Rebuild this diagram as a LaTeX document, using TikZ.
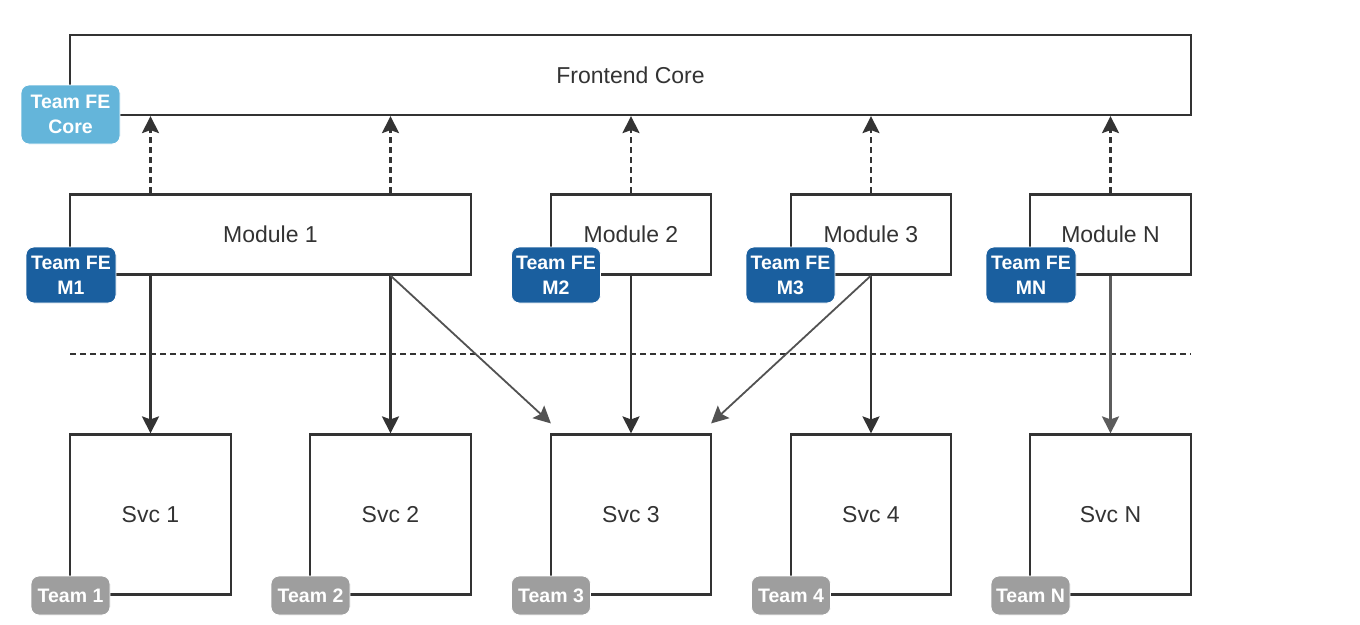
\documentclass[tikz,border=0pt]{standalone}
\usepackage{fontspec}
\setmainfont{Liberation Sans}
\usetikzlibrary{arrows.meta,calc}
\definecolor{lineC}{HTML}{333333}
\definecolor{fecore}{HTML}{64B5DA}
\definecolor{femod}{HTML}{1A5F9F}
\definecolor{teamgray}{HTML}{9E9E9E}
\tikzset{
  box/.style={draw=lineC, line width=2.2pt, fill=white, inner sep=0pt, text=lineC,
    font=\fontsize{23}{27}\selectfont},
  badge/.style={rounded corners=8pt, draw=white, line width=0.8pt, text=white,
    inner sep=0pt, align=center, font=\bfseries\fontsize{19.5}{25}\selectfont},
  dep/.style={draw=lineC, line width=2.2pt, dashed, dash pattern=on 6pt off 4pt,
    -{Stealth[length=17pt,width=17pt,inset=3pt]}},
  call/.style={draw=lineC, line width=2.2pt,
    -{Stealth[length=17pt,width=17pt,inset=3pt]}},
  diag/.style={draw=lineC!85!white, line width=1.8pt,
    -{Stealth[length=17pt,width=17pt,inset=3pt]}},
  sep/.style={draw=lineC, line width=2.2pt, dash pattern=on 6pt off 4pt}
}
\begin{document}
\begin{tikzpicture}[x=1pt,y=-1pt]
\useasboundingbox (0,0) rectangle (1360,624);
\fill[white] (0,0) rectangle (1360,624);

% Frontend core
\node[box, minimum width=1121pt, minimum height=80pt] (fe) at (630.5,75) {Frontend Core};

% Modules
\node[box, minimum width=401pt, minimum height=80pt] (m1) at (270.5,234.5) {Module 1};
\node[box, minimum width=160pt, minimum height=80pt] (m2) at (631,234.5) {Module 2};
\node[box, minimum width=160pt, minimum height=80pt] (m3) at (871,234.5) {Module 3};
\node[box, minimum width=161pt, minimum height=80pt] (mn) at (1110.5,234.5) {Module N};

% Services
\node[box, minimum width=161pt, minimum height=160pt] (s1) at (150.5,514.5) {Svc 1};
\node[box, minimum width=161pt, minimum height=160pt] (s2) at (390.5,514.5) {Svc 2};
\node[box, minimum width=160pt, minimum height=160pt] (s3) at (631,514.5) {Svc 3};
\node[box, minimum width=160pt, minimum height=160pt] (s4) at (871,514.5) {Svc 4};
\node[box, minimum width=161pt, minimum height=160pt] (sn) at (1110.5,514.5) {Svc N};

% separator
\coordinate (sepL) at (70,354);
\coordinate (sepR) at (1191,354);
\draw[sep] (sepL) -- (sepR);

% dependency arrows (dashed, upward)
\draw[dep] (m1.north -| s1) -- (fe.south -| s1);
\draw[dep] (m1.north -| s2) -- (fe.south -| s2);
\draw[dep] (m2.north) -- (fe.south -| m2);
\draw[dep] (m3.north) -- (fe.south -| m3);
\draw[dep] (mn.north) -- (fe.south -| mn);

% calls (solid, downward)
\draw[call] (m1.south -| s1) -- (s1.north);
\draw[call] (m1.south -| s2) -- (s2.north);
\draw[call] (m2.south) -- (s3.north);
\draw[call] (m3.south) -- (s4.north);
\draw[call, draw=lineC!80!white] (mn.south) -- (sn.north);
\coordinate (s3a) at ($(s3.north west)+(1,-10)$);
\coordinate (s3b) at ($(s3.north east)+(-1,-10)$);
\draw[diag] (m1.south -| s2) -- (s3a);
\draw[diag] (m3.south) -- (s3b);

% team badges
\node[badge, fill=fecore, minimum width=99pt, minimum height=59pt] (bcore) at (70.5,114.5) {Team FE\\Core};
\node[badge, fill=femod, minimum width=90pt, minimum height=56pt] (bm1) at (71,275) {Team FE\\M1};
\node[badge, fill=femod, minimum width=89pt, minimum height=56pt] (bm2) at (556,275) {Team FE\\M2};
\node[badge, fill=femod, minimum width=89pt, minimum height=56pt] (bm3) at (790.5,275) {Team FE\\M3};
\node[badge, fill=femod, minimum width=90pt, minimum height=56pt] (bmn) at (1031,275) {Team FE\\MN};

\node[badge, fill=teamgray, minimum width=79pt, minimum height=39pt] (t1) at (70.5,595.5) {Team 1};
\node[badge, fill=teamgray, minimum width=79pt, minimum height=39pt] (t2) at (310.5,595.5) {Team 2};
\node[badge, fill=teamgray, minimum width=79pt, minimum height=39pt] (t3) at (551,595.5) {Team 3};
\node[badge, fill=teamgray, minimum width=79pt, minimum height=39pt] (t4) at (791,595.5) {Team 4};
\node[badge, fill=teamgray, minimum width=79pt, minimum height=39pt] (tn) at (1030.5,595.5) {Team N};
\end{tikzpicture}
\end{document}
